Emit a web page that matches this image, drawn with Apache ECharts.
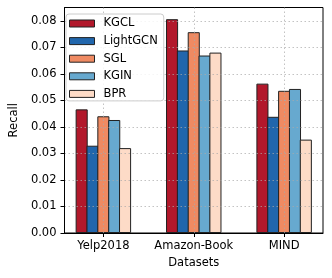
<!DOCTYPE html>
<html><head><meta charset="utf-8">
<script src="https://cdn.jsdelivr.net/npm/echarts@6/dist/echarts.min.js"></script>
<style>html,body{margin:0;padding:0;background:#fff}#c{width:332px;height:278px}</style>
</head><body><div id="c"></div>
<script>
const categories = ['Yelp2018', 'Amazon-Book', 'MIND'];
const methods = ['KGCL', 'LightGCN', 'SGL', 'KGIN', 'BPR'];
const KGCL = [0.0466, 0.0806, 0.0563];
const LightGCN = [0.0329, 0.0688, 0.0438];
const SGL = [0.0440, 0.0757, 0.0536];
const KGIN = [0.0426, 0.0669, 0.0543];
const BPR = [0.0320, 0.0680, 0.0352];
const yTicks = [0, 0.01, 0.02, 0.03, 0.04, 0.05, 0.06, 0.07, 0.08];
const colors = ['#b2182b', '#2166ac', '#ef8a62', '#67a9cf', '#fddbc7'];
const seriesValues = [KGCL, LightGCN, SGL, KGIN, BPR];
const catIdx = categories.map((c, i) => i);

// group layout (in axis units): 5 bars of width 0.12 centred on each category
const BAR_W = 0.12;
const X_MIN = -0.43, X_MAX = 2.43;
const GRID_L = 59, GRID_R = 9, W = 332;
const barPx = BAR_W * (W - GRID_L - GRID_R) / (X_MAX - X_MIN) + 1;

const font = 'DejaVu Sans';
const fs = 11.5;
const gridLine = {show: true, lineStyle: {color: 'rgba(170,170,170,0.7)', type: [1.5, 2.5], width: 1}};
const chart = echarts.init(document.getElementById('c'));
chart.setOption({
  animation: false,
  textStyle: {fontFamily: font},
  grid: {left: GRID_L, right: GRID_R, top: 7.5, bottom: 45, show: true, borderColor: '#000', borderWidth: 1, backgroundColor: 'transparent'},
  legend: {
    orient: 'vertical', left: 66, top: 14, z: 10,
    itemWidth: 25, itemHeight: 7, itemGap: 3.6,
    padding: [2.5, 6, 0, 3],
    backgroundColor: 'rgba(255,255,255,0.85)', borderColor: '#cccccc', borderWidth: 1, borderRadius: 3,
    icon: 'rect',
    itemStyle: {borderColor: '#222', borderWidth: 1},
    textStyle: {fontFamily: font, fontSize: fs, color: '#000', lineHeight: 14, padding: [0, 0, 0, 4]},
    data: methods
  },
  xAxis: {
    type: 'value', min: X_MIN, max: X_MAX, z: 5,
    name: 'Datasets', nameLocation: 'middle', nameGap: 23,
    nameTextStyle: {fontFamily: font, fontSize: fs, color: '#000'},
    axisLine: {show: true, onZero: false, lineStyle: {color: '#000', width: 1}},
    axisTick: {show: true, length: 4, customValues: catIdx, lineStyle: {color: '#000'}},
    axisLabel: {customValues: catIdx, margin: 7, fontFamily: font, fontSize: fs, color: '#000',
      formatter: v => categories[Math.round(v)] || ''},
    splitLine: gridLine
  },
  yAxis: {
    type: 'value', min: 0, max: 0.085, interval: 0.01, z: 5,
    name: 'Recall', nameLocation: 'middle', nameGap: 40,
    nameTextStyle: {fontFamily: font, fontSize: fs, color: '#000'},
    axisLine: {show: true, onZero: false, lineStyle: {color: '#000', width: 1}},
    axisTick: {show: true, length: 4, customValues: yTicks, lineStyle: {color: '#000'}},
    axisLabel: {customValues: yTicks, margin: 8, fontFamily: font, fontSize: fs, color: '#000',
      formatter: v => v.toFixed(2)},
    splitLine: gridLine
  },
  series: methods.map((m, k) => ({
    name: m, type: 'bar', barWidth: barPx, barGap: '-100%',
    itemStyle: {color: colors[k], borderColor: '#222', borderWidth: 1},
    data: seriesValues[k].map((v, i) => [catIdx[i] + (k - 2) * BAR_W, v])
  }))
});
</script></body></html>
